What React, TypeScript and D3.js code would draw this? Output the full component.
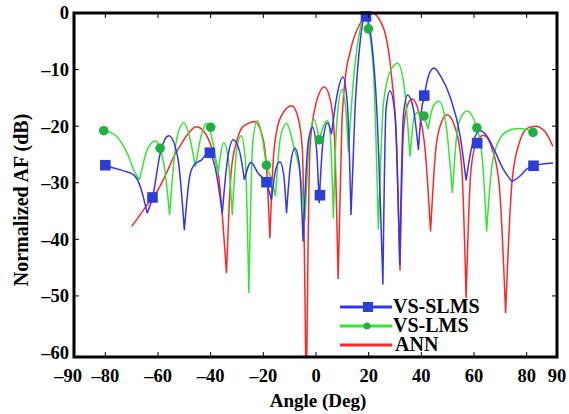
import React from "react";
import * as d3 from "d3";

const xTicks = [-90, -80, -60, -40, -20, 0, 20, 40, 60, 80, 90];
const yTicks = [0, -10, -20, -30, -40, -50, -60];

const blueAngles = [-80, -76.8, -73, -69.2, -66.7, -64.1, -62.1, -59, -55.9, -52.5, -50, -47.8, -45.8, -43.5, -40.8, -38.2, -35.6, -33.5, -31.4, -29, -27.2, -24.7, -22, -20, -18.8, -16.9, -15.2, -13.7, -12.3, -11.2, -9.6, -8, -6.3, -4.9, -3, -1.3, 0.2, 1.2, 2.7, 4.4, 5.9, 8, 10.2, 11.9, 13.3, 14.8, 16.7, 18.8, 21.2, 23.1, 25.4, 26.6, 28.1, 30, 31.8, 33.2, 34.8, 37, 38.9, 40, 41.1, 42.8, 44.8, 47.5, 50.9, 54.8, 57, 59.5, 62.3, 65, 68, 71, 74.4, 77.5, 80, 82.6, 86, 90];
const blueValues = [-26.9, -27.4, -27.9, -28.6, -30.7, -35.4, -32.6, -24.5, -21.7, -25.5, -38.4, -28.5, -26.6, -26.0, -24.6, -27.5, -35.4, -25.5, -22.4, -24.5, -29.5, -26.4, -28.3, -29.3, -30.2, -33.0, -27.5, -26.3, -28.5, -35.4, -26.5, -23.9, -27, -40.4, -23, -20.2, -24, -33.6, -22.5, -19.4, -21.4, -14.5, -11.3, -16, -35.7, -17.2, -5.4, -0.3, -5.4, -17.2, -48, -17, -13.8, -18, -44.5, -18, -14.5, -17, -24.2, -17.5, -14.6, -11, -9.7, -11.3, -14.8, -21.9, -29.6, -23, -20.8, -21.8, -24.5, -27.5, -29.8, -28.8, -27.6, -27, -26.7, -26.5];

const greenAngles = [-80.6, -78, -75.5, -71.7, -68.6, -67, -64.1, -61, -59.2, -57.5, -55.6, -53, -50.2, -47.8, -45.8, -43.5, -41.6, -39.2, -37.2, -35, -33.4, -31.8, -30, -28.5, -26.9, -25.5, -24, -22.2, -20.5, -18.8, -17, -15.4, -13.5, -11.2, -8.5, -6, -4.2, -2.5, -0.8, 1.2, 4.4, 5.6, 6.6, 7.8, 9.8, 11.2, 12.3, 14.2, 16.5, 18.5, 19.9, 21.8, 23.7, 25.6, 28.3, 31, 33.5, 35.7, 37.5, 39.3, 41, 42.6, 44.5, 46.7, 49.3, 51.8, 54, 57.3, 61.1, 63.2, 64.8, 66.8, 69.5, 73, 77, 80, 82.4, 84];
const greenValues = [-20.8, -21.1, -21.9, -24.8, -28.3, -29.5, -24.2, -22.6, -23.9, -27.5, -35.7, -22.5, -19.4, -22.3, -27.2, -21.5, -19.5, -22.8, -28.5, -22.9, -25.5, -35.7, -23.8, -21.7, -25.5, -49.5, -22.8, -19, -21.8, -26.9, -29.3, -32.4, -22, -19.5, -23.5, -28.5, -36.6, -22.5, -18.8, -22.4, -19, -23, -36.3, -20, -13.5, -16.5, -24.5, -12, -3.5, -0.5, -2.6, -10, -38.3, -16, -10.2, -8.9, -13, -25.4, -18, -17.5, -18.4, -20.5, -16.5, -15.6, -19.5, -31.8, -19.8, -17.3, -20.3, -26, -38.6, -27, -22.5, -20.8, -20.4, -20.6, -21.1, -21.3];

const redAngles = [-70, -67, -63.5, -60.3, -57, -54, -51, -48.5, -45.5, -42.5, -39.5, -36.8, -34, -32.2, -30, -27.5, -23.2, -20.5, -18.9, -17.5, -16, -13.5, -9.2, -6.8, -5.2, -3.7, -2.3, -0.4, 3.2, 5.5, 7, 8.4, 9.8, 11, 12.9, 16.7, 21.2, 25.5, 28.7, 30.6, 31.9, 33.2, 34.8, 36.5, 39, 41.5, 43.5, 45.5, 47.5, 49.7, 52.5, 55.3, 57, 58.8, 61, 63.6, 66.5, 69.5, 72, 74.5, 77.5, 80.5, 83.3, 87, 90];
const redValues = [-37.7, -35.8, -33.5, -31.5, -28.5, -25.4, -23, -21.3, -20.1, -21, -24, -29.5, -46, -28, -22.5, -20, -19.2, -21.5, -26.5, -39.8, -24.5, -18.5, -16.4, -18.5, -24, -70, -24, -16.8, -13.1, -15.5, -22, -47, -20, -12, -7, -1.9, 0, -2.5, -11.3, -23, -45.5, -21, -16.2, -15.2, -17.5, -24.5, -38.6, -24, -19.5, -18, -19.8, -27, -50.4, -28, -22.8, -21.6, -23.5, -30, -53, -29.5, -22.5, -20.3, -20, -21, -23.6];

const blueMarkerAngles = [-80, -62.1, -40.3, -18.8, 1.5, 19, 41.1, 61.2, 82.6];
const blueMarkerValues = [-26.9, -32.6, -24.7, -29.9, -32.2, -0.6, -14.6, -23, -27];
const greenMarkerAngles = [-80.6, -59.2, -40, -18.8, 1.2, 19.9, 41, 61.1, 82.4];
const greenMarkerValues = [-20.8, -23.9, -20.2, -26.9, -22.4, -2.8, -18.2, -20.3, -21.1];

const seriesNames = ["VS-SLMS", "VS-LMS", "ANN"];

const BLUE = "#3335f5";
const BLUE_MK = "#2b3fd6";
const GREEN = "#33e633";
const GREEN_MK = "#1fb040";
const RED = "#ff2828";

const W = 569;
const H = 414;
const x = d3.scaleLinear().domain([-90, 90]).range([79, 553]);
const y = d3.scaleLinear().domain([0, -60]).range([13, 352.5]);
const boxL = x(-90) - 5;
const boxR = x(90) + 4;
const boxT = y(0);
const boxB = y(-60) + 4.5;

function buildPath(angles: number[], values: number[]): string {
  const pts = angles.map((a, i) => [a, values[i]] as [number, number]);
  const splits = [0];
  for (let i = 1; i < pts.length - 1; i++) {
    if (pts[i][1] < pts[i - 1][1] && pts[i][1] < pts[i + 1][1]) splits.push(i);
  }
  splits.push(pts.length - 1);
  const line = d3
    .line<[number, number]>()
    .x((d) => x(d[0]))
    .y((d) => y(d[1]))
    .curve(d3.curveMonotoneX);
  let out = "";
  for (let s = 0; s < splits.length - 1; s++) {
    const seg = pts.slice(splits[s], splits[s + 1] + 1);
    out += line(seg) || "";
  }
  return out;
}

const font = "'Liberation Serif', 'Times New Roman', serif";

export default function App() {
  const ticksInner = xTicks.filter((t) => t !== -90 && t !== 90);
  const yInner = yTicks.filter((t) => t !== 0 && t !== -60);
  return (
    <svg width={W} height={H} style={{ position: "absolute", left: 0, top: 0, background: "#fff" }}>
      <defs>
        <clipPath id="plotclip">
          <rect x={boxL} y={boxT} width={boxR - boxL} height={boxB - boxT} />
        </clipPath>
      </defs>
      <rect x={0} y={0} width={W} height={H} fill="#fff" />
      <g clipPath="url(#plotclip)" fill="none" strokeWidth={1.5} strokeLinejoin="round">
        <path d={buildPath(redAngles, redValues)} stroke={RED} />
        <path d={buildPath(greenAngles, greenValues)} stroke={GREEN} />
        <path d={buildPath(blueAngles, blueValues)} stroke={BLUE} />
      </g>
      <g>
        {greenMarkerAngles.map((a, i) => (
          <circle key={"g" + i} cx={x(a)} cy={y(greenMarkerValues[i])} r={4.8} fill={GREEN_MK} />
        ))}
        {blueMarkerAngles.map((a, i) => (
          <rect key={"b" + i} x={x(a) - 5.3} y={y(blueMarkerValues[i]) - 5.3} width={10.6} height={10.6} fill={BLUE_MK} />
        ))}
      </g>
      <g stroke="#000" strokeWidth={1}>
        {ticksInner.map((t) => (
          <g key={"xt" + t}>
            <line x1={x(t)} x2={x(t)} y1={boxB} y2={boxB - 5} />
            <line x1={x(t)} x2={x(t)} y1={boxT} y2={boxT + 5} />
          </g>
        ))}
        {yInner.map((t) => (
          <g key={"yt" + t}>
            <line x1={boxL} x2={boxL + 5} y1={y(t)} y2={y(t)} />
            <line x1={boxR} x2={boxR - 5} y1={y(t)} y2={y(t)} />
          </g>
        ))}
      </g>
      <rect x={boxL} y={boxT} width={boxR - boxL} height={boxB - boxT} fill="none" stroke="#000" strokeWidth={3} />
      <g fontFamily={font} fontWeight="bold" fontSize={18.5} fill="#000">
        {xTicks.map((t) => {
          const px = t === -90 ? boxL - 6 : t === 90 ? boxR : x(t);
          return (
            <text key={"xl" + t} x={px} y={382} textAnchor="middle">
              {t < 0 ? "\u2013" + Math.abs(t) : String(t)}
            </text>
          );
        })}
        {yTicks.map((t) => (
          <text key={"yl" + t} x={69} y={y(t)} dy="0.35em" textAnchor="end">
            {t < 0 ? "\u2013" + Math.abs(t) : String(t)}
          </text>
        ))}
      </g>
      <text x={318} y={407} textAnchor="middle" fontFamily={font} fontWeight="bold" fontSize={19}>
        Angle (Deg)
      </text>
      <text
        transform={`translate(28,200) rotate(-90)`}
        textAnchor="middle"
        fontFamily={font}
        fontWeight="bold"
        fontSize={20}
      >
        Normalized AF (dB)
      </text>
      <g fontFamily={font} fontWeight="bold" fontSize={20}>
        <line x1={340} x2={392} y1={307} y2={307} stroke={BLUE} strokeWidth={3} />
        <rect x={363} y={302} width={10} height={10} fill={BLUE_MK} />
        <text x={393} y={313}>{seriesNames[0]}</text>
        <line x1={340} x2={392} y1={326} y2={326} stroke={GREEN} strokeWidth={3} />
        <circle cx={367} cy={326} r={3.5} fill={GREEN_MK} />
        <text x={393} y={332}>{seriesNames[1]}</text>
        <line x1={340} x2={392} y1={345} y2={345} stroke={RED} strokeWidth={3} />
        <text x={395} y={351}>{seriesNames[2]}</text>
      </g>
    </svg>
  );
}
